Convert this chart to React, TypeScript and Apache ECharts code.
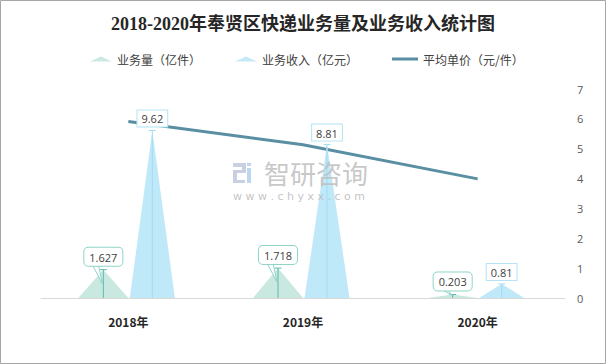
import React, { useEffect, useRef } from "react";
import * as echarts from "echarts";

const years = ["2018年", "2019年", "2020年"];
const volume = [1.627, 1.718, 0.203]; // 业务量（亿件）
const revenue = [9.62, 8.81, 0.81]; // 业务收入（亿元）
const avgPrice = [5.91, 5.13, 3.99]; // 平均单价（元/件）
const rightTicks = { min: 0, max: 7, interval: 1 };

const TITLE = "2018-2020年奉贤区快递业务量及业务收入统计图";
const NAMES = ["业务量（亿件）", "业务收入（亿元）", "平均单价（元/件）"];

type Cfg = {
  offset: number;
  width: number;
  fill: string;
  lineColor: string;
  border: string;
  radius: number;
  callout: boolean;
  padding: number[];
  values: number[];
};

function makeRender(cfg: Cfg) {
  return (params: any, api: any) => {
    const idx = api.value(0);
    const v = api.value(1);
    const base = api.coord([idx, 0]);
    const top = api.coord([idx, v]);
    const cx = base[0] + cfg.offset;
    const y0 = base[1];
    const y1 = top[1];
    const hw = cfg.width / 2;
    const boxBottom = y1 - 4;
    const children: any[] = [
      {
        type: "polygon",
        shape: { points: [[cx - hw, y0], [cx, y1], [cx + hw, y0]] },
        style: { fill: cfg.fill },
      },
      {
        type: "line",
        shape: { x1: cx, y1: y1, x2: cx, y2: y0 },
        style: { stroke: cfg.lineColor, lineWidth: 1 },
      },
      {
        type: "line",
        shape: { x1: cx - 3.5, y1: y1, x2: cx + 3.5, y2: y1 },
        style: { stroke: cfg.lineColor, lineWidth: 1 },
      },
    ];
    if (cfg.callout) {
      const tipY = Math.min(boxBottom + 18, y0 - 3);
      children.push({
        type: "polygon",
        shape: {
          points: [
            [cx - 11, boxBottom - 1],
            [cx - 5, boxBottom - 1],
            [cx - 1, tipY],
          ],
        },
        style: { fill: "#ffffff", stroke: cfg.border, lineWidth: 1 },
      });
    }
    children.push({
      type: "text",
      style: {
        text: String(cfg.values[idx]),
        x: cx,
        y: boxBottom,
        align: "center",
        verticalAlign: "bottom",
        fill: "#404040",
        fontSize: 11,
        fontFamily: "'Open Sans', 'Noto Sans', sans-serif",
        backgroundColor: "#ffffff",
        borderColor: cfg.border,
        borderWidth: 1,
        borderRadius: cfg.radius,
        padding: cfg.padding,
      },
    });
    return { type: "group", children };
  };
}

export default function App() {
  const ref = useRef<HTMLDivElement>(null);
  useEffect(() => {
    document.body.style.margin = "0";
    const chart = echarts.init(ref.current!, null, { renderer: "svg" });
    const legendText = { fontSize: 12, color: "#404040", fontFamily: "'Noto Sans CJK SC', sans-serif" };
    const option: any = {
      animation: false,
      backgroundColor: "#ffffff",
      title: {
        text: TITLE,
        left: "center",
        top: 10,
        textStyle: {
          fontSize: 18,
          fontWeight: "bold",
          color: "#262626",
          fontFamily: "'Liberation Serif', 'Noto Sans CJK SC', serif",
        },
      },
      legend: [
        {
          data: [{ name: NAMES[0], icon: "path://M0,5 L11,0 L22,5 Z", itemStyle: { color: "#cbe9e2" } }],
          left: 85,
          top: 48,
          itemWidth: 22,
          itemHeight: 5,
          textStyle: legendText,
        },
        {
          data: [{ name: NAMES[1], icon: "path://M0,5 L11,0 L22,5 Z", itemStyle: { color: "#c6e9f7" } }],
          left: 230,
          top: 48,
          itemWidth: 22,
          itemHeight: 5,
          textStyle: legendText,
        },
        {
          data: [{ name: NAMES[2], icon: "rect", itemStyle: { color: "#5a8fa3" } }],
          left: 387,
          top: 48,
          itemWidth: 26,
          itemHeight: 3,
          textStyle: legendText,
        },
      ],
      grid: { left: 41, right: 41, top: 89, bottom: 66, containLabel: false },
      xAxis: {
        type: "category",
        data: years,
        axisLine: { lineStyle: { color: "#d9d9d9", width: 1 } },
        axisTick: { show: false },
        axisLabel: {
          margin: 17,
          fontSize: 12,
          fontWeight: "bold",
          color: "#262626",
          fontFamily: "'Noto Sans CJK SC', sans-serif",
        },
      },
      yAxis: [
        { type: "value", min: 0, max: 12, interval: 2, show: false, splitLine: { show: false } },
        {
          type: "value",
          position: "right",
          min: rightTicks.min,
          max: rightTicks.max,
          interval: rightTicks.interval,
          axisLine: { show: false },
          axisTick: { show: false },
          splitLine: { show: false },
          axisLabel: { margin: 12, fontSize: 11, color: "#595959", fontFamily: "'Open Sans', sans-serif" },
        },
      ],
      series: [
        {
          name: NAMES[0],
          type: "custom",
          yAxisIndex: 0,
          z: 3,
          data: volume.map((v, i) => [i, v]),
          renderItem: makeRender({
            offset: -25,
            width: 50,
            fill: "rgba(186,226,216,0.8)",
            lineColor: "#5bbcae",
            border: "#8fd4c7",
            radius: 4,
            callout: true,
            padding: [4, 5, 3, 5],
            values: volume,
          }),
        },
        {
          name: NAMES[1],
          type: "custom",
          yAxisIndex: 0,
          z: 3,
          data: revenue.map((v, i) => [i, v]),
          renderItem: makeRender({
            offset: 24,
            width: 45,
            fill: "rgba(184,229,247,0.9)",
            lineColor: "#a3dcf1",
            border: "#b5e3f3",
            radius: 0,
            callout: false,
            padding: [3, 4, 2, 4],
            values: revenue,
          }),
        },
        {
          name: NAMES[2],
          type: "line",
          yAxisIndex: 1,
          z: 2,
          data: avgPrice,
          symbol: "none",
          lineStyle: { color: "#5a8fa3", width: 3 },
          itemStyle: { color: "#5a8fa3" },
        },
      ],
      graphic: [
        {
          type: "rect",
          silent: true,
          shape: { x: 0.5, y: 0.5, width: 605, height: 363 },
          style: { fill: "none", stroke: "#a6a6a6", lineWidth: 1 },
          z: 100,
        },
        {
          type: "group",
          left: 233,
          top: 163,
          silent: true,
          z: 10,
          children: [
            { type: "rect", shape: { x: 0, y: 0, width: 12, height: 4 }, style: { fill: "#c9d0e2" } },
            { type: "rect", shape: { x: 9, y: 0, width: 4, height: 10 }, style: { fill: "#c9d0e2" } },
            { type: "rect", shape: { x: 0, y: 7, width: 12, height: 3 }, style: { fill: "#c9d0e2" } },
            { type: "rect", shape: { x: 0, y: 7, width: 4, height: 13 }, style: { fill: "#c9d0e2" } },
            { type: "rect", shape: { x: 0, y: 17, width: 12, height: 3 }, style: { fill: "#c9d0e2" } },
            { type: "rect", shape: { x: 14, y: 0, width: 4, height: 3 }, style: { fill: "#bcd7ee" } },
            { type: "rect", shape: { x: 14, y: 5, width: 4, height: 15 }, style: { fill: "#bcd7ee" } },
          ],
        },
        {
          type: "text",
          left: 264,
          top: 159,
          silent: true,
          z: 10,
          style: {
            text: "智研咨询",
            fontSize: 26,
            fill: "rgba(190,190,190,0.85)",
            fontFamily: "'Noto Sans CJK SC', sans-serif",
          },
        },
        {
          type: "text",
          left: 233,
          top: 191,
          silent: true,
          z: 10,
          style: {
            text: "w w w . c h y x x . c o m",
            fontSize: 11,
            fill: "rgba(185,185,185,0.85)",
            fontFamily: "'DejaVu Sans', sans-serif",
          },
        },
      ],
    };
    chart.setOption(option);
    return () => chart.dispose();
  }, []);
  return (
    <div
      ref={ref}
      style={{ position: "fixed", left: 0, top: 0, width: 606, height: 364 }}
    />
  );
}
